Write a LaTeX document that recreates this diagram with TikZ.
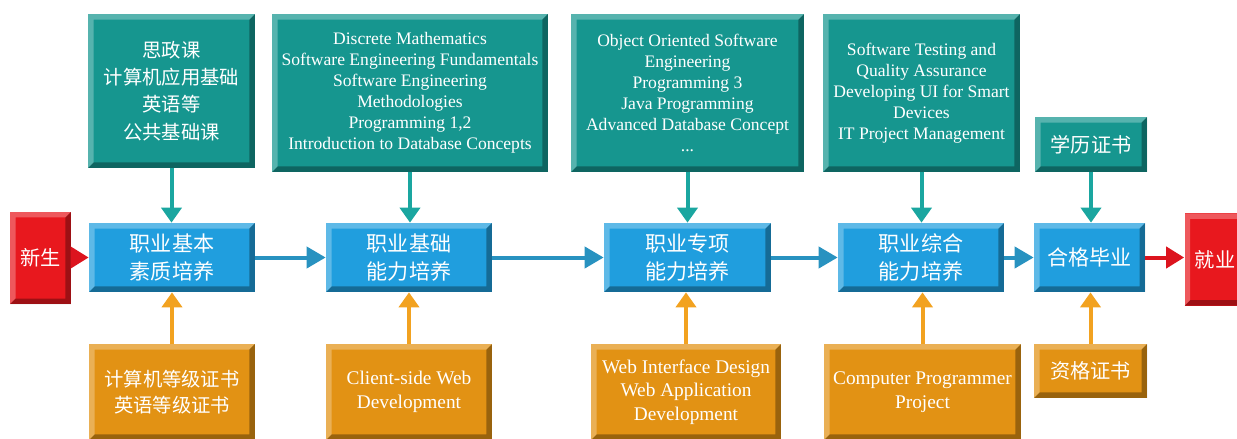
\documentclass[tikz,border=0pt]{standalone}
\usepackage{fontspec}
\setmainfont{Liberation Serif}
\newfontfamily\cjk{Noto Sans CJK SC}
\usetikzlibrary{arrows.meta}
\definecolor{tealbox}{RGB}{22,150,143}
\definecolor{bluebox}{RGB}{32,158,222}
\definecolor{orangebox}{RGB}{226,146,20}
\definecolor{redbox}{RGB}{232,24,30}
\definecolor{tealarr}{RGB}{26,166,160}
\definecolor{orangearr}{RGB}{242,162,32}
\definecolor{bluearr}{RGB}{40,146,192}
\definecolor{redarr}{RGB}{220,20,30}

\begin{document}
\begin{tikzpicture}[x=0.02cm,y=-0.02cm,
  bevel/.style={path picture={
    \path (path picture bounding box.south west) coordinate (pa)
          (path picture bounding box.north east) coordinate (pb);
    \fill[white,opacity=.28] (pa) -- ++(0.11cm,0.11cm) |- ([xshift=-0.11cm,yshift=-0.11cm]pb) -- (pb) -| cycle;
    \fill[black,opacity=.32] (pa) -- ++(0.11cm,0.11cm) -| ([xshift=-0.11cm,yshift=-0.11cm]pb) -- (pb) |- cycle;
  }},
  box/.style={bevel,inner sep=2pt,text=white,align=center},
  course/.style={box,fill=tealbox,font=\fontsize{10}{12}\selectfont},
  stage/.style={box,fill=bluebox,minimum height=1.38cm,font=\cjk\fontsize{12}{16}\selectfont},
  prac/.style={box,fill=orangebox,font=\fontsize{11}{13.5}\selectfont},
  endp/.style={box,fill=redbox,minimum width=1.22cm,minimum height=1.85cm,font=\cjk\fontsize{11.5}{14}\selectfont},
  down/.style={draw=tealarr,line width=0.08cm,-{Triangle[length=0.3cm,width=0.4cm]}},
  up/.style={draw=orangearr,line width=0.08cm,-{Triangle[length=0.3cm,width=0.4cm]}},
  flow/.style={draw=bluearr,line width=0.08cm,-{Triangle[length=0.38cm,width=0.42cm]}},
  rflow/.style={draw=redarr,line width=0.08cm,-{Triangle[length=0.36cm,width=0.42cm]}}]
\useasboundingbox (0,0) rectangle (1237,439);

\node[course,minimum width=3.34cm,minimum height=3.08cm,font=\cjk\fontsize{11}{15.5}\selectfont] (T1) at (171.5,91)
  {思政课\\计算机应用基础\\英语等\\公共基础课};
\node[course,minimum width=5.52cm,minimum height=3.16cm] (T2) at (410,93)
  {Discrete Mathematics\\Software Engineering Fundamentals\\Software Engineering\\Methodologies\\Programming 1,2\\Introduction to Database Concepts};
\node[course,minimum width=4.66cm,minimum height=3.16cm] (T3) at (687.5,93)
  {Object Oriented Software\\Engineering\\Programming 3\\Java Programming\\Advanced Database Concept\\...};
\node[course,minimum width=3.94cm,minimum height=3.16cm] (T4) at (921.5,93)
  {Software Testing and\\Quality Assurance\\Developing UI for Smart\\Devices\\IT Project Management};
\node[course,minimum width=2.24cm,minimum height=1.1cm,font=\cjk\fontsize{11.5}{14}\selectfont] (T5) at (1091,144.5) {学历证书};

\node[endp] (xs) at (40.5,258) {新生};
\node[stage,minimum width=3.32cm] (B1) at (172,257.5) {职业基本\\素质培养};
\node[stage,minimum width=3.32cm] (B2) at (409,257.5) {职业基础\\能力培养};
\node[stage,minimum width=3.34cm] (B3) at (687.5,257.5) {职业专项\\能力培养};
\node[stage,minimum width=3.32cm] (B4) at (921,257.5) {职业综合\\能力培养};
\node[stage,minimum width=2.22cm] (B5) at (1089.5,257.5) {合格毕业};
\node[endp] (jy) at (1215,259.5) {就业};

\node[prac,minimum width=3.32cm,minimum height=1.92cm,font=\cjk\fontsize{11}{14.5}\selectfont] (O1) at (172,392) {计算机等级证书\\英语等级证书};
\node[prac,minimum width=3.32cm,minimum height=1.92cm] (O2) at (409,392) {Client-side Web\\Development};
\node[prac,minimum width=3.8cm,minimum height=1.92cm] (O3) at (686,392) {Web Interface Design\\Web Application\\Development};
\node[prac,minimum width=3.94cm,minimum height=1.92cm] (O4) at (922.5,392) {Computer Programmer\\Project};
\node[prac,minimum width=2.26cm,minimum height=1.08cm,font=\cjk\fontsize{11.5}{14}\selectfont] (O5) at (1090.5,371) {资格证书};

\foreach \t/\b in {T1/B1,T2/B2,T3/B3,T4/B4,T5/B5}
  \draw[down] (\t.south) -- (\t.south |- \b.north);
\foreach \o/\b in {O1/B1,O2/B2,O3/B3,O4/B4,O5/B5}
  \draw[up] (\o.north) -- (\o.north |- \b.south);
\foreach \a/\b in {B1/B2,B2/B3,B3/B4,B4/B5}
  \draw[flow] (\a) -- (\b);
\draw[rflow] (xs.east |- B1) -- (B1);
\draw[rflow] (B5) -- (jy.west |- B5);
\end{tikzpicture}
\end{document}
